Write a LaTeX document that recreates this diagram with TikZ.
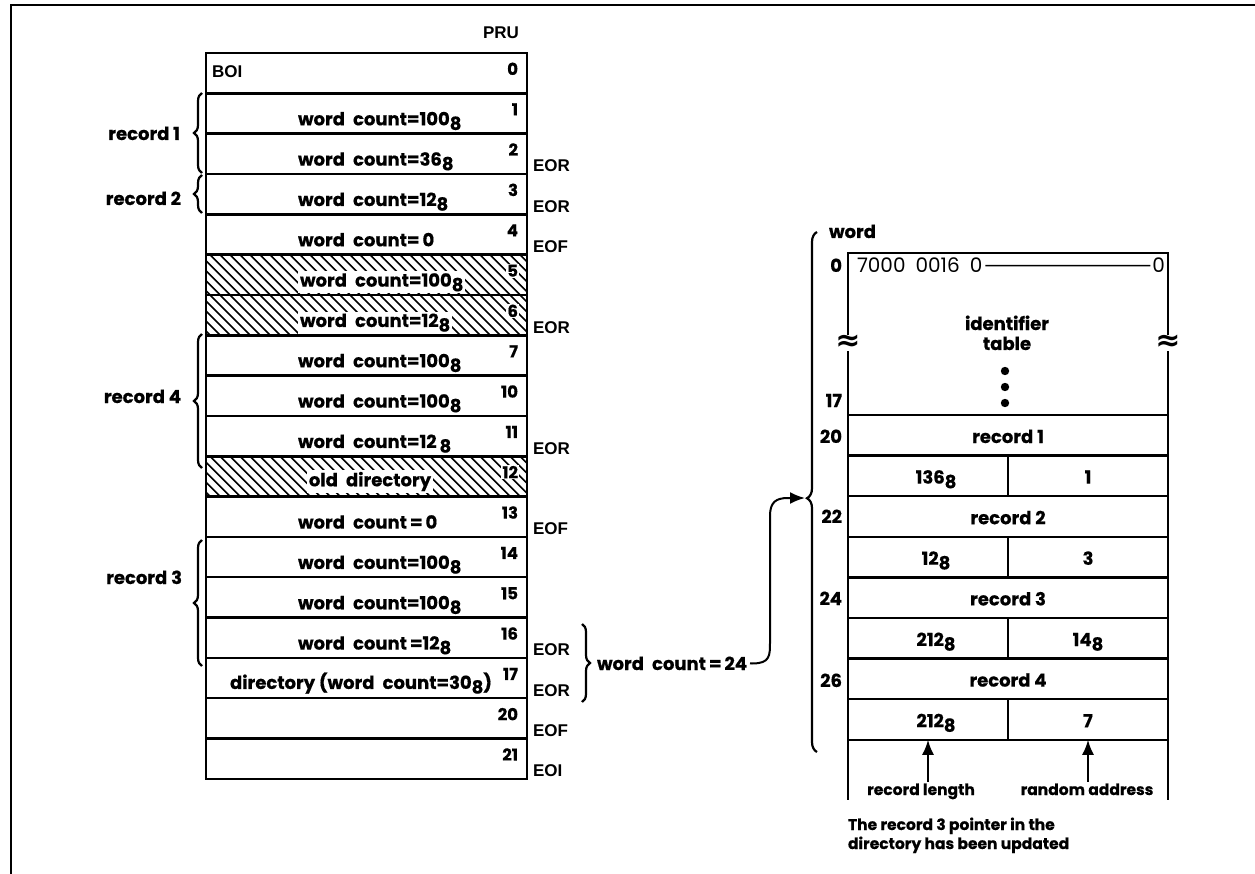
\documentclass[tikz,border=0pt]{standalone}
\usepackage{fontspec}
\setmainfont{Poppins}[BoldFeatures={FakeBold=0.6}]
\newfontfamily\labfont{Liberation Sans}
\newfontfamily\dejavu{DejaVu Sans}
\usetikzlibrary{arrows.meta,decorations.pathreplacing}
\newcommand\oct[1]{\raisebox{-0.45ex}{#1}}
\newcommand\wc{word\hspace{0.45em}count}
\begin{document}
\begin{tikzpicture}[x=1pt,y=-1pt,
  every node/.style={inner sep=0pt,outer sep=0pt},
  cell/.style={draw,line width=2.4pt,minimum width=321pt,minimum height=40.33pt},
  rcell/.style={draw,line width=2.4pt,minimum width=320pt,minimum height=40.6pt},
  hcell/.style={draw,line width=2.4pt,minimum width=160pt,minimum height=40.6pt},
  txt/.style={font=\fontsize{18}{20}\selectfont\bfseries},
  wtxt/.style={txt,fill=white,inner sep=2pt},
  num/.style={font=\fontsize{16.5}{18}\selectfont\bfseries,fill=white,inner sep=1pt},
  lab/.style={font=\fontsize{17}{19}\selectfont\labfont\bfseries},
  small/.style={font=\fontsize{15.5}{19}\selectfont\bfseries},
  brk/.style={fill=white,font=\fontsize{30}{30}\selectfont\dejavu\bfseries,inner sep=0pt},
  hatchln/.style={line width=1.6pt},
  brc/.style={decorate,decoration={brace,amplitude=8pt},line width=2.2pt},
  frame/.style={line width=2pt},
  conn/.style={line width=2pt,-{Latex[length=15pt,width=12pt]}},
]
\useasboundingbox (0,0) rectangle (1255,874);
\draw[frame] (11,874) -- (11,5) -- (1255,5);

% ---------- left column: PRUs ----------
\foreach \i in {5,6,10}{
  \begin{scope}
    \clip (206,{53+40.33*\i}) rectangle (527,{53+40.33*(\i+1)});
    \foreach \k in {0,...,37}
      \draw[hatchln] ({160+10*\k},{53+40.33*\i}) -- ++(42,42);
  \end{scope}
}
\foreach \i in {0,...,17}
  \node[cell] (r\i) at (366.5,{73.17+40.33*\i}) {};

\foreach \i/\n in {0/0,1/1,2/2,3/3,4/4,5/5,6/6,7/7,8/10,9/11,10/12,11/13,12/14,13/15,14/16,15/17,16/20,17/21}
  \node[num,anchor=base east] (p\i) at (519,{53+40.33*\i+22}) {\n};

\node[lab,anchor=base east] (pru) at (519,39) {PRU};
\node[lab,anchor=base west] (boi) at (212,78) {BOI};

\foreach \i/\t in {1/\wc=100\oct8, 2/\wc=36\oct8, 3/\wc=12\oct8, 4/\wc=\,0,
                   7/\wc=100\oct8, 8/\wc=100\oct8, 9/\wc=12\,\oct8,
                   11/\wc\,=\,0, 12/\wc=100\oct8, 13/\wc=100\oct8, 14/\wc\,=12\oct8}
  \node[txt,anchor=base west] (t\i) at (298,{53+40.33*\i+32}) {\t};
\foreach \i/\t in {5/\wc=100\oct8, 6/\wc=12\oct8}
  \node[wtxt,anchor=base west] (t\i) at (298,{53+40.33*\i+32}) {\t};
\node[wtxt,anchor=base] (t10) at (370,{53+40.33*10+30}) {old\hspace{0.45em}directory};
\node[txt,anchor=base] (t15) at (361,{53+40.33*15+31}) {directory (\wc=30\oct8)};

\foreach \i/\t in {2/EOR,3/EOR,4/EOF,6/EOR,9/EOR,11/EOF,14/EOR,15/EOR,16/EOF,17/EOI}
  \node[lab,anchor=base west] (e\i) at (533,{53+40.33*(\i+1)-2}) {\t};

% record braces
\node[txt,anchor=base east] (rec1) at (180,140) {record 1};
\draw[brc] (202,173) -- (202,93);
\node[txt,anchor=base east] (rec2) at (181,205) {record 2};
\draw[brc] (202,213) -- (202,175);
\node[txt,anchor=base east] (rec4) at (181,403) {record 4};
\draw[brc] (202,468) -- (202,334);
\node[txt,anchor=base east] (rec3) at (182,584) {record 3};
\draw[brc] (202,666) -- (202,540);

% directory brace and pointer
\draw[brc] (582,624) -- (582,702);
\node[txt,anchor=base west] (wc24) at (597,670) {\wc\,=\,24};
\coordinate (btip) at (805,498);
\draw[conn] ([xshift=3pt]wc24.east) -- (752,663.5) .. controls (770,663.5) and (770,656) .. (770,642)
  -- (770,516) .. controls (770,502) and (776,498) .. (788,498) -- (btip);

% ---------- right column: directory ----------
\draw[brc,decoration={brace,amplitude=10pt,aspect=0.488}] (817,752) -- (817,232);
\node[txt,anchor=base west] (wordlab) at (829,238) {word};

\node[draw,line width=2.4pt,minimum width=320pt,minimum height=162pt] (idt) at (1008,334) {};
\node[font=\fontsize{20}{22}\selectfont,anchor=base west] (hdr) at (857,273) {7000\hspace{0.5em}0016\hspace{0.5em}0};
\node[font=\fontsize{20}{22}\selectfont,anchor=base east] (hdr0) at (1165,273) {0};
\draw[line width=1.6pt,shorten <=3pt,shorten >=2pt] (hdr.east) -- (hdr0.west);
\node[txt,align=center,anchor=base] (idtxt) at (1007,350) {identifier\\table};
\foreach \yy in {371,387,403} \fill (1005,\yy) circle (4.2);
\node[brk] (brkL) at (848,343) {≈};
\node[brk] (brkR) at (1168,343) {≈};

\foreach \k/\t in {0/record 1,2/record 2,4/record 3,6/record 4}{
  \node[rcell] (rr\k) at (1008,{415+40.6*\k+20.3}) {};
  \node[txt,anchor=base] (rt\k) at (1008,{415+40.6*\k+28}) {\t};
}
\foreach \k/\l/\r in {1/136\oct8/1, 3/12\oct8/3, 5/212\oct8/14\oct8, 7/212\oct8/7}{
  \node[hcell] (L\k) at (928,{415+40.6*\k+20.3}) {};
  \node[hcell] (R\k) at (1088,{415+40.6*\k+20.3}) {};
  \node[txt,anchor=base] (lt\k) at (936,{415+40.6*\k+28}) {\l};
  \node[txt,anchor=base] (rtt\k) at (1088,{415+40.6*\k+28}) {\r};
}
\foreach \yy/\n in {272/0,407/17,443/20,523/22,605/24,687/26}
  \node[txt,anchor=base east] (w\n) at (842,\yy) {\n};

\draw[line width=2.4pt] (L7.south west) -- ++(0,60);
\draw[line width=2.4pt] (R7.south east) -- ++(0,60);
\node[small,anchor=base] (reclen) at (921,795) {record length};
\node[small,anchor=base] (randad) at (1087,795) {random address};
\draw[conn] ([yshift=2pt]reclen.north -| L7.south) -- (L7.south);
\draw[conn] ([yshift=2pt]randad.north -| R7.south) -- (R7.south);

\node[small,anchor=base west,align=left] (note) at (848,849) {The record 3 pointer in the\\directory has been updated};
\end{tikzpicture}
\end{document}
